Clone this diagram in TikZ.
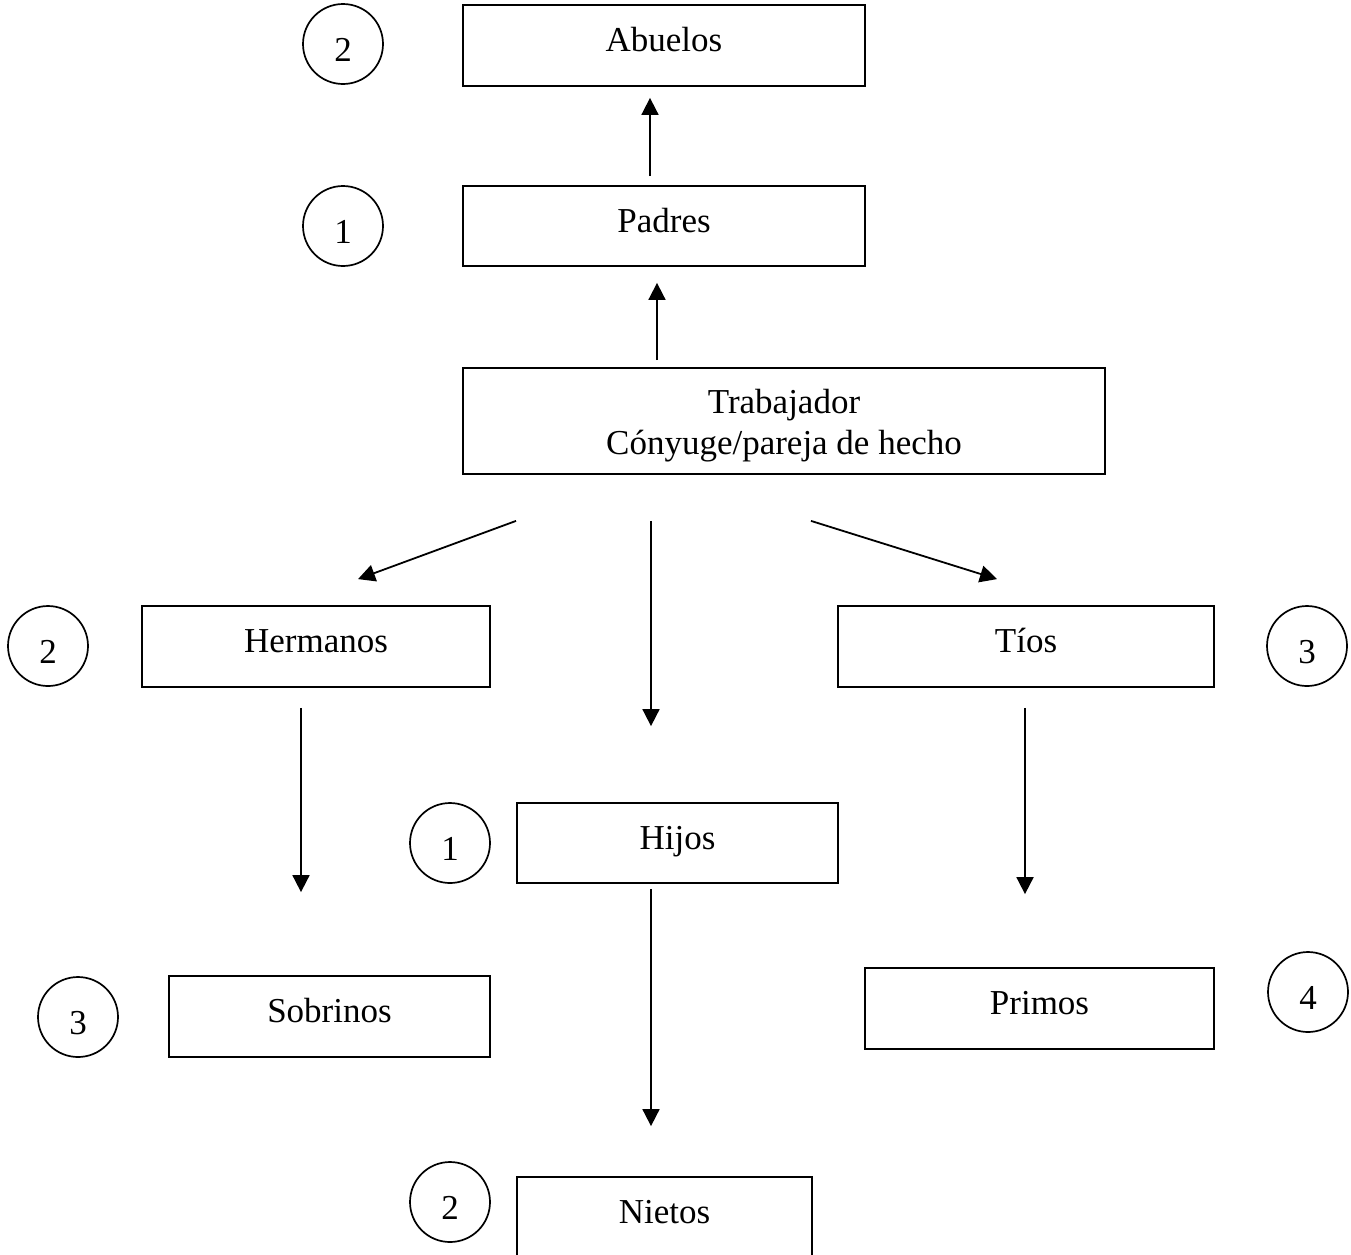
\documentclass[tikz,border=0pt]{standalone}
\usepackage{fontspec}
\setmainfont{Liberation Serif}
\usetikzlibrary{arrows.meta}
\begin{document}
\begin{tikzpicture}[x=1pt,y=-1pt,
  every node/.style={font=\fontsize{35}{41}\selectfont},
  famBox/.style={draw, line width=1.8pt, rectangle, inner sep=0pt, text height=24pt, text depth=12pt},
  numCirc/.style={draw, line width=1.7pt, circle, minimum size=80pt, inner sep=0pt, text height=34pt, text depth=0pt},
  arr/.style={line width=1.8pt, -{Triangle[length=17pt,width=17pt]}}]
\useasboundingbox (0,0) rectangle (1351,1254);
\clip (0,0) rectangle (1351,1254);

% boxes
\node[famBox, minimum width=402pt, minimum height=81pt] (abuelos) at (664,45.5) {Abuelos};
\node[famBox, minimum width=402pt, minimum height=80pt] (padres) at (664,226) {Padres};
\node[draw, line width=1.8pt, rectangle, inner sep=0pt, align=center, minimum width=642pt, minimum height=106pt] (trab) at (784,421) {\rule{0pt}{34pt}Trabajador\\Cónyuge/pareja de hecho};
\node[famBox, minimum width=348pt, minimum height=81pt] (herm) at (316,646.5) {Hermanos};
\node[famBox, minimum width=376pt, minimum height=81pt] (tios) at (1026,646.5) {Tíos};
\node[famBox, minimum width=321pt, minimum height=80pt] (hijos) at (677.5,843) {Hijos};
\node[famBox, minimum width=321pt, minimum height=81pt] (sobr) at (329.5,1016.5) {Sobrinos};
\node[famBox, minimum width=349pt, minimum height=81pt] (primos) at (1039.5,1008.5) {Primos};
\node[famBox, minimum width=295pt, minimum height=81pt] (nietos) at (664.5,1217.5) {Nietos};

% degree circles
\node[numCirc] (gAbuelos) at (343,44) {2};
\node[numCirc] (gPadres) at (343,226) {1};
\node[numCirc] (gHerm) at (48,646) {2};
\node[numCirc] (gTios) at (1307,646) {3};
\node[numCirc] (gHijos) at (450,843) {1};
\node[numCirc] (gSobr) at (78,1017) {3};
\node[numCirc] (gPrimos) at (1308,992) {4};
\node[numCirc] (gNietos) at (450,1202) {2};

% connectors
\draw[arr] ([shift={(-14,-9)}]padres.north) -- ([shift={(-14,11)}]abuelos.south);
\draw[arr] ([shift={(-127,-7)}]trab.north) -- ([shift={(-7,16)}]padres.south);
\draw[arr] ([shift={(-268,46)}]trab.south) -- ([shift={(42,-26)}]herm.north);
\draw[arr] ([shift={(-133,46)}]trab.south) -- ([shift={(-26.5,-76)}]hijos.north);
\draw[arr] ([shift={(27,46)}]trab.south) -- ([shift={(-29,-26)}]tios.north);
\draw[arr] ([shift={(-15,20)}]herm.south) -- ([shift={(-28.5,-83)}]sobr.north);
\draw[arr] ([shift={(-1,20)}]tios.south) -- ([shift={(-14.5,-73)}]primos.north);
\draw[arr] ([shift={(-26.5,5)}]hijos.south) -- ([shift={(-13.5,-50)}]nietos.north);
\end{tikzpicture}
\end{document}
